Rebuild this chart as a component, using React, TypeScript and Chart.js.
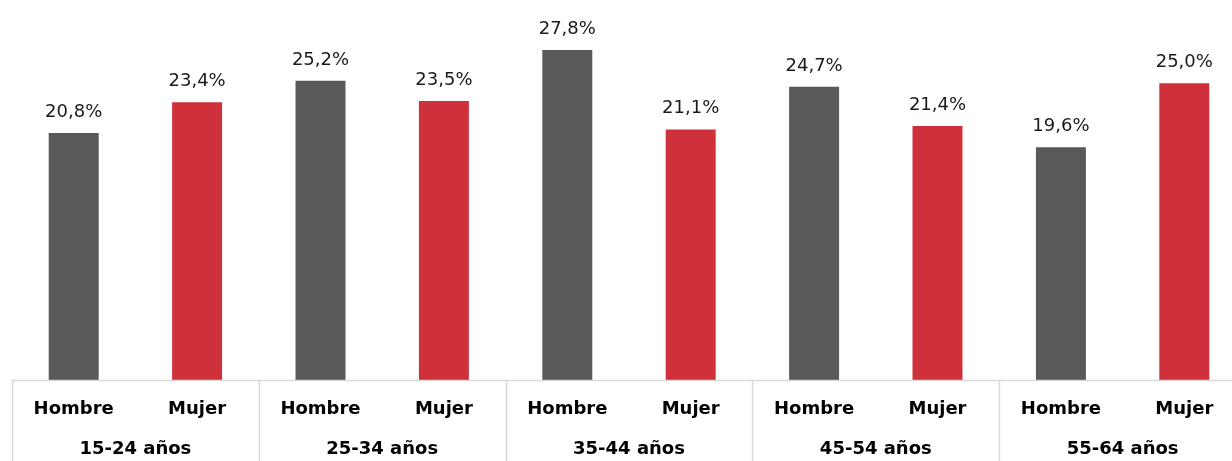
import React, { useEffect, useRef } from "react";
import { Chart, registerables } from "chart.js";

Chart.register(...registerables);

const groups = ["15-24 años", "25-34 años", "35-44 años", "45-54 años", "55-64 años"];
const seriesNames = ["Hombre", "Mujer"];
const hombre = [20.8, 25.2, 27.8, 24.7, 19.6];
const mujer = [23.4, 23.5, 21.1, 21.4, 25.0];
const colors = ["#595959", "#CF313B"];

const FONT = "'DejaVu Sans', sans-serif";
const LINE = "#D9D9D9";

const fmt = (v: number) => v.toFixed(1).replace(".", ",") + "%";

const axisPlugin = {
  id: "multiAxis",
  afterDatasetsDraw(chart: any) {
    const ctx = chart.ctx;
    const area = chart.chartArea;
    const xs = chart.scales.x;
    ctx.save();
    // value labels
    ctx.font = `18px ${FONT}`;
    ctx.fillStyle = "#1a1a1a";
    ctx.textAlign = "center";
    ctx.textBaseline = "alphabetic";
    chart.data.datasets.forEach((ds: any, di: number) => {
      const meta = chart.getDatasetMeta(di);
      meta.data.forEach((el: any, i: number) => {
        ctx.fillText(fmt(ds.data[i]), el.x, el.y - 16);
      });
    });
    // baseline and separators
    const base = area.bottom;
    ctx.strokeStyle = LINE;
    ctx.lineWidth = 1.5;
    ctx.beginPath();
    ctx.moveTo(area.left, base + 0.5);
    ctx.lineTo(chart.width, base + 0.5);
    const step = xs.getPixelForValue(1) - xs.getPixelForValue(0);
    for (let i = 0; i <= groups.length; i++) {
      const x = Math.round(xs.getPixelForValue(i) - step / 2) + 0.5;
      ctx.moveTo(x, base);
      ctx.lineTo(x, chart.height);
    }
    ctx.stroke();
    // series labels under bars
    ctx.fillStyle = "#000000";
    ctx.font = `bold 18px ${FONT}`;
    ctx.textBaseline = "middle";
    chart.data.datasets.forEach((ds: any, di: number) => {
      const meta = chart.getDatasetMeta(di);
      meta.data.forEach((el: any) => {
        ctx.fillText(ds.label, el.x, base + 29);
      });
    });
    groups.forEach((g, i) => {
      ctx.fillText(g, xs.getPixelForValue(i), base + 69);
    });
    ctx.restore();
  },
};

export default function App() {
  const ref = useRef<HTMLCanvasElement | null>(null);
  useEffect(() => {
    document.body.style.margin = "0";
    document.body.style.overflow = "hidden";
    const chart = new Chart(ref.current as HTMLCanvasElement, {
      type: "bar",
      data: {
        labels: groups,
        datasets: [
          { label: seriesNames[0], data: hombre, backgroundColor: colors[0] },
          { label: seriesNames[1], data: mujer, backgroundColor: colors[1] },
        ],
      },
      options: {
        responsive: false,
        animation: false,
        devicePixelRatio: 1,
        layout: { padding: { left: 12, right: 0, top: 0, bottom: 81 } },
        plugins: { legend: { display: false }, tooltip: { enabled: false } },
        datasets: { bar: { categoryPercentage: 1, barPercentage: 0.405 } },
        scales: {
          x: { display: false, grid: { display: false } },
          y: { display: false, min: 0, max: 32, grid: { display: false } },
        },
      },
      plugins: [axisPlugin],
    });
    return () => chart.destroy();
  }, []);
  return (
    <div style={{ width: 1232, height: 461, overflow: "hidden" }}>
      <canvas ref={ref} width={1246} height={461} style={{ display: "block", width: 1246, height: 461 }} />
    </div>
  );
}
